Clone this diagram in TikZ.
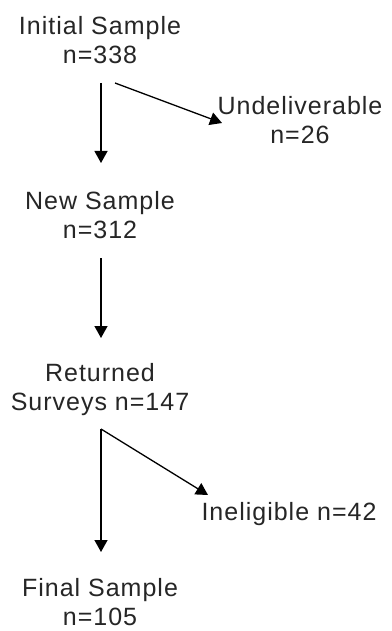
\documentclass[tikz,border=0pt]{standalone}
\usepackage{fontspec}
\setmainfont{Liberation Sans}[LetterSpace=4]
\usetikzlibrary{arrows.meta}
\begin{document}
\begin{tikzpicture}[x=1pt,y=-1pt,
  lbl/.style={inner sep=0pt,align=center,font=\fontsize{25}{29}\selectfont,text=black!85},
  arr/.style={line width=1.3pt,-{Triangle[length=12pt,width=13pt]}}]
\useasboundingbox[fill=white] (0,0) rectangle (391,631);
% sample stages
\node[lbl] (init) at (100,40) {Initial Sample\\n=338};
\node[lbl] (undel) at (300,120) {Undeliverable\\n=26};
\node[lbl] (new) at (100,215) {New Sample\\n=312};
\node[lbl] (ret) at (100,390) {Returned\\Surveys n=147};
\node[lbl] (inel) at (289,514) {Ineligible n=42};
\node[lbl] (final) at (100,602) {Final Sample\\n=105};
% arrow end points
\coordinate (i1) at (101,83);
\coordinate (i2) at (115,83);
\coordinate (u1) at (222,123);
\coordinate (n1) at (101,163);
\coordinate (n2) at (101,258);
\coordinate (r1) at (101,338);
\coordinate (r2) at (101,429);
\coordinate (e1) at (208,495);
\coordinate (f1) at (101,552);
% connectors
\draw[arr] (i1) -- (n1);
\draw[arr] (i2) -- (u1);
\draw[arr] (n2) -- (r1);
\draw[arr] (r2) -- (f1);
\draw[arr] (r2) -- (e1);
\end{tikzpicture}
\end{document}
